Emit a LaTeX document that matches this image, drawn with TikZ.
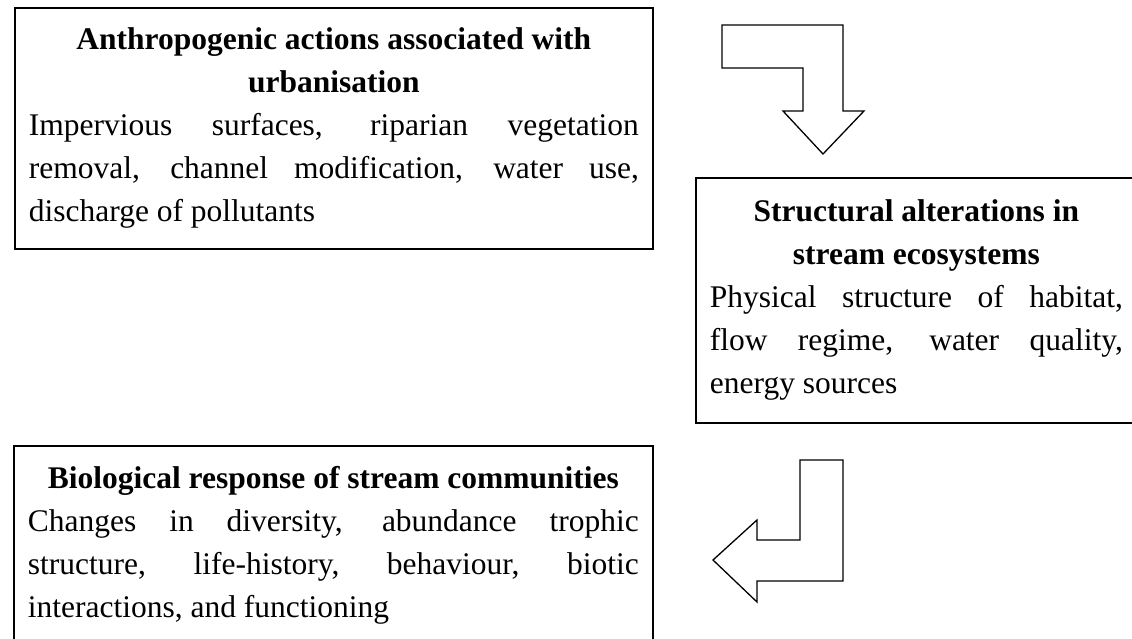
\documentclass[tikz,border=0pt]{standalone}
\usepackage{fontspec}
\setmainfont{Liberation Serif}
\begin{document}
\begin{tikzpicture}[x=1pt,y=-1pt,
  box/.style={draw, line width=1.7pt, anchor=north west, inner xsep=14pt, inner ysep=0pt,
    align=justify, font=\fontsize{31.5}{43}\selectfont},
  blockarrow/.style={draw, line width=1.3pt, line join=miter, fill=white}]
\useasboundingbox (0,0) rectangle (1132,639);
\node[box, text width=610pt, minimum height=241pt] (act) at (14,7)
  {{\centering\bfseries Anthropogenic actions associated with\\ urbanisation\par}
   Impervious surfaces, riparian vegetation\linebreak removal, channel modification, water use,\linebreak discharge of pollutants};
\node[box, text width=413pt, minimum height=245pt] (str) at (695,177)
  {{\centering\bfseries Structural alterations in\\ stream ecosystems\par}
   Physical structure of habitat,\linebreak flow regime, water quality,\linebreak energy sources};
\node[box, text width=611pt, minimum height=198pt] (bio) at (13,445)
  {{\centering\bfseries Biological response of stream communities\par}
   Changes in diversity, abundance trophic\linebreak structure, life-history, behaviour, biotic\linebreak interactions, and functioning};
\draw[blockarrow] (722,25) -- (843,25) -- (843,111) -- (864,111) -- (823,154)
  -- (783,111) -- (803,111) -- (803,68) -- (722,68) -- cycle;
\draw[blockarrow] (800,460) -- (843,460) -- (843,581) -- (757,581) -- (757,602)
  -- (713,560) -- (757,520) -- (757,540) -- (800,540) -- cycle;
\end{tikzpicture}
\end{document}
